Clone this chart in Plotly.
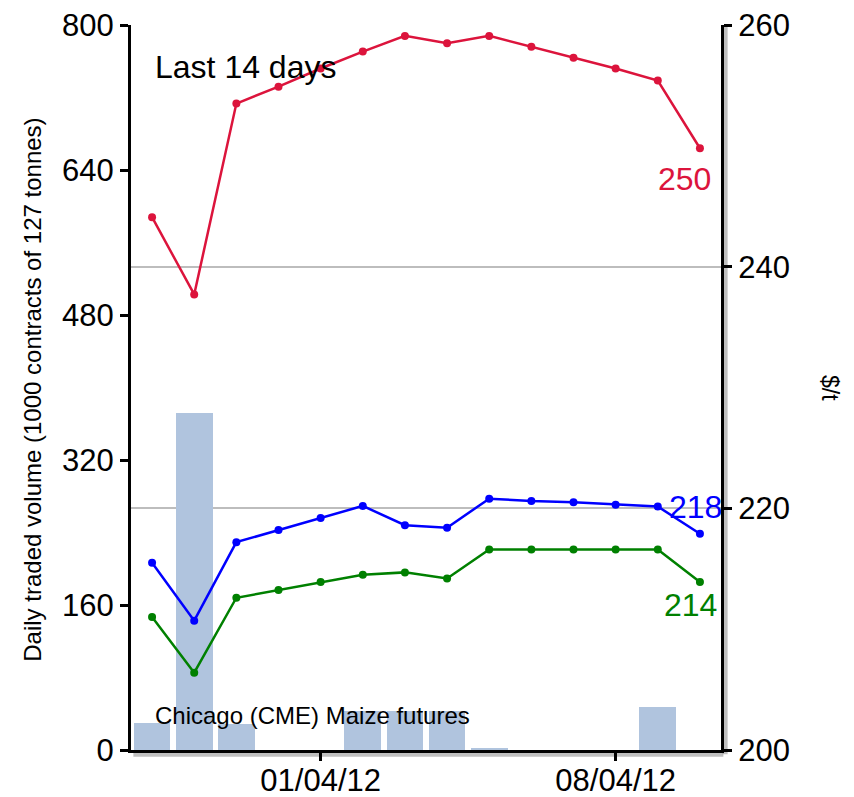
import plotly.graph_objects as go

dates = ["2012-03-28", "2012-03-29", "2012-03-30", "2012-03-31", "2012-04-01",
         "2012-04-02", "2012-04-03", "2012-04-04", "2012-04-05", "2012-04-06",
         "2012-04-07", "2012-04-08", "2012-04-09", "2012-04-10"]
volume = [30, 372, 29, 0, 0, 43, 43, 43, 2, 0, 0, 0, 47, 0]
red_price = [244.1, 237.7, 253.5, 254.9, 256.4, 257.8, 259.1, 258.5, 259.1, 258.2,
             257.3, 256.4, 255.4, 249.8]
blue_price = [215.5, 210.7, 217.2, 218.2, 219.2, 220.2, 218.6, 218.4, 220.8, 220.6,
              220.5, 220.3, 220.15, 217.9]
green_price = [211.0, 206.4, 212.6, 213.25, 213.9, 214.5, 214.7, 214.2, 216.6, 216.6,
               216.6, 216.6, 216.6, 213.9]
x_tickvals = ["2012-04-01", "2012-04-08"]
x_ticktext = ["01/04/12", "08/04/12"]
left_ticks = [0, 160, 320, 480, 640, 800]
right_ticks = [200, 220, 240, 260]

FONT = "Liberation Sans, Arial, sans-serif"
DAY_MS = 86400000

fig = go.Figure()
fig.add_trace(go.Bar(x=dates, y=volume, width=0.87 * DAY_MS,
                     marker=dict(color="#b0c4de", line=dict(width=0)),
                     yaxis="y", showlegend=False, hoverinfo="x+y"))
for vals, col in [(red_price, "#dc143c"), (blue_price, "#0000ff"), (green_price, "#008000")]:
    fig.add_trace(go.Scatter(x=dates, y=vals, mode="lines+markers", yaxis="y2",
                             line=dict(color=col, width=2.5),
                             marker=dict(color=col, size=8),
                             showlegend=False))

# shadows for axis lines
shadow = "rgba(0,0,0,0.25)"
fig.add_shape(type="line", xref="paper", yref="paper", x0=0.004, x1=1.004,
              y0=-0.006, y1=-0.006, line=dict(color=shadow, width=5), layer="below")
fig.add_shape(type="line", xref="paper", yref="paper", x0=1.007, x1=1.007,
              y0=-0.006, y1=1.0, line=dict(color=shadow, width=5), layer="below")

annotations = [
    dict(text="Last 14 days", x=0.038, y=0.942, xref="paper", yref="paper",
         xanchor="left", yanchor="middle", showarrow=False,
         font=dict(size=32, color="#000", family=FONT)),
    dict(text="Chicago (CME) Maize futures", x=0.038, y=0.048, xref="paper", yref="paper",
         xanchor="left", yanchor="middle", showarrow=False,
         font=dict(size=24, color="#000", family=FONT)),
    dict(text="%d" % round(red_price[-1]), x=dates[-1], y=red_price[-1], xref="x", yref="y2",
         xshift=-15, yshift=-31, showarrow=False,
         font=dict(size=32, color="#dc143c", family=FONT)),
    dict(text="%d" % round(blue_price[-1]), x=dates[-1], y=blue_price[-1], xref="x", yref="y2",
         xshift=-4, yshift=27, showarrow=False,
         font=dict(size=32, color="#0000ff", family=FONT)),
    dict(text="%d" % round(green_price[-1]), x=dates[-1], y=green_price[-1], xref="x", yref="y2",
         xshift=-9, yshift=-23, showarrow=False,
         font=dict(size=32, color="#008000", family=FONT)),
    dict(text="Daily traded volume (1000 contracts of 127 tonnes)", x=-0.166, y=0.497,
         xref="paper", yref="paper", textangle=-90, showarrow=False,
         xanchor="center", yanchor="middle",
         font=dict(size=24, color="#000", family=FONT)),
    dict(text="$/t", x=1.185, y=0.499, xref="paper", yref="paper", textangle=90,
         showarrow=False, xanchor="center", yanchor="middle",
         font=dict(size=23, color="#000", family=FONT)),
]

fig.update_layout(
    width=854, height=797,
    margin=dict(l=131, r=133, t=25, b=47, autoexpand=False),
    paper_bgcolor="white", plot_bgcolor="white",
    bargap=0,
    font=dict(family=FONT, color="#000"),
    xaxis=dict(type="date", range=["2012-03-27 12:00", "2012-04-10 12:00"],
               tickvals=x_tickvals, ticktext=x_ticktext, automargin=False,
               showgrid=False, zeroline=False,
               showline=True, linecolor="#000", linewidth=3,
               ticks="outside", ticklen=8, tickwidth=2.5, tickcolor="#000",
               ticklabelstandoff=-7,
               tickfont=dict(size=31, family=FONT, color="#000")),
    yaxis=dict(range=[0, 800], tickvals=left_ticks, showgrid=False, zeroline=False,
               automargin=False,
               showline=True, linecolor="#000", linewidth=3,
               ticks="outside", ticklen=8, tickwidth=2.5, tickcolor="#000",
               tickfont=dict(size=31, family=FONT, color="#000")),
    yaxis2=dict(range=[200, 260], tickvals=right_ticks, overlaying="y", side="right",
                automargin=False,
                showgrid=True, gridcolor="#bdbdbd", gridwidth=2, zeroline=False,
                showline=True, linecolor="#000", linewidth=3,
                ticks="outside", ticklen=8, tickwidth=2.5, tickcolor="#000",
                tickfont=dict(size=31, family=FONT, color="#000")),
    annotations=annotations,
)

fig.write_html("out.html", config={"displayModeBar": False},
               post_script="document.body.style.margin='0';document.body.style.overflow='hidden';")
